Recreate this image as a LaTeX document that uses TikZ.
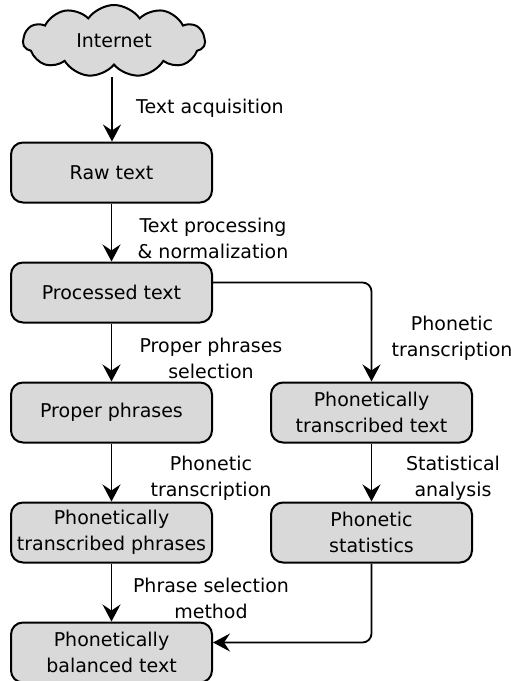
\documentclass[tikz,border=0pt]{standalone}
\usepackage{fontspec}
\setmainfont{DejaVu Sans}
\usetikzlibrary{shapes.symbols,arrows.meta}
\begin{document}
\begin{tikzpicture}[x=1pt,y=-1pt,
  font=\fontsize{19}{26}\selectfont,
  box/.style={draw, line width=2pt, rounded corners=12pt, fill=black!15,
    minimum width=201pt, minimum height=60pt, inner sep=0pt, align=center},
  cloudbox/.style={cloud, cloud puffs=11, cloud puff arc=110, aspect=2.6, draw, line width=2pt,
    fill=black!15, minimum width=182pt, minimum height=72pt, inner sep=0pt},
  lbl/.style={align=center, inner sep=0pt},
  conn/.style={line width=1.8pt, -{Stealth[length=17pt,width=18pt,inset=6pt]}, rounded corners=9pt}
]
\useasboundingbox (0,0) rectangle (511,681);
\node[cloudbox] (inet) at (114,41) {Internet};
\node[box] (raw) at (111.5,172.5) {Raw text};
\node[box] (proc) at (111.5,292.5) {Processed text};
\node[box] (prop) at (111.5,412.5) {Proper phrases};
\node[box] (ptp) at (111.5,532.5) {Phonetically\\transcribed phrases};
\node[box] (bal) at (111.5,652.5) {Phonetically\\balanced text};
\node[box] (ptt) at (371.5,412.5) {Phonetically\\transcribed text};
\node[box] (stat) at (371.5,532.5) {Phonetic\\statistics};

\coordinate (inetb) at (112,77);
\draw[conn] (inetb) -- (raw.north -| inetb);
\draw[conn] (raw) -- (proc);
\draw[conn] (proc) -- (prop);
\draw[conn] (prop) -- (ptp);
\draw[conn] (ptp) -- (bal);
\draw[conn] ([yshift=10pt]proc.east) -| (ptt.north);
\draw[conn] (ptt.south) -- (stat.north);
\draw[conn] (stat.south) |- ([yshift=10pt]bal.east);

\node[lbl, anchor=west] (l1) at (136,108) {Text acquisition};
\node[lbl] (l2) at (213,238) {Text processing\\\& normalization};
\node[lbl] (l3) at (211,358) {Proper phrases\\selection};
\node[lbl] (l4) at (452,338) {Phonetic\\transcription};
\node[lbl] (l5) at (211,478) {Phonetic\\transcription};
\node[lbl] (l6) at (453,478) {Statistical\\analysis};
\node[lbl] (l7) at (211,598) {Phrase selection\\method};
\end{tikzpicture}
\end{document}
